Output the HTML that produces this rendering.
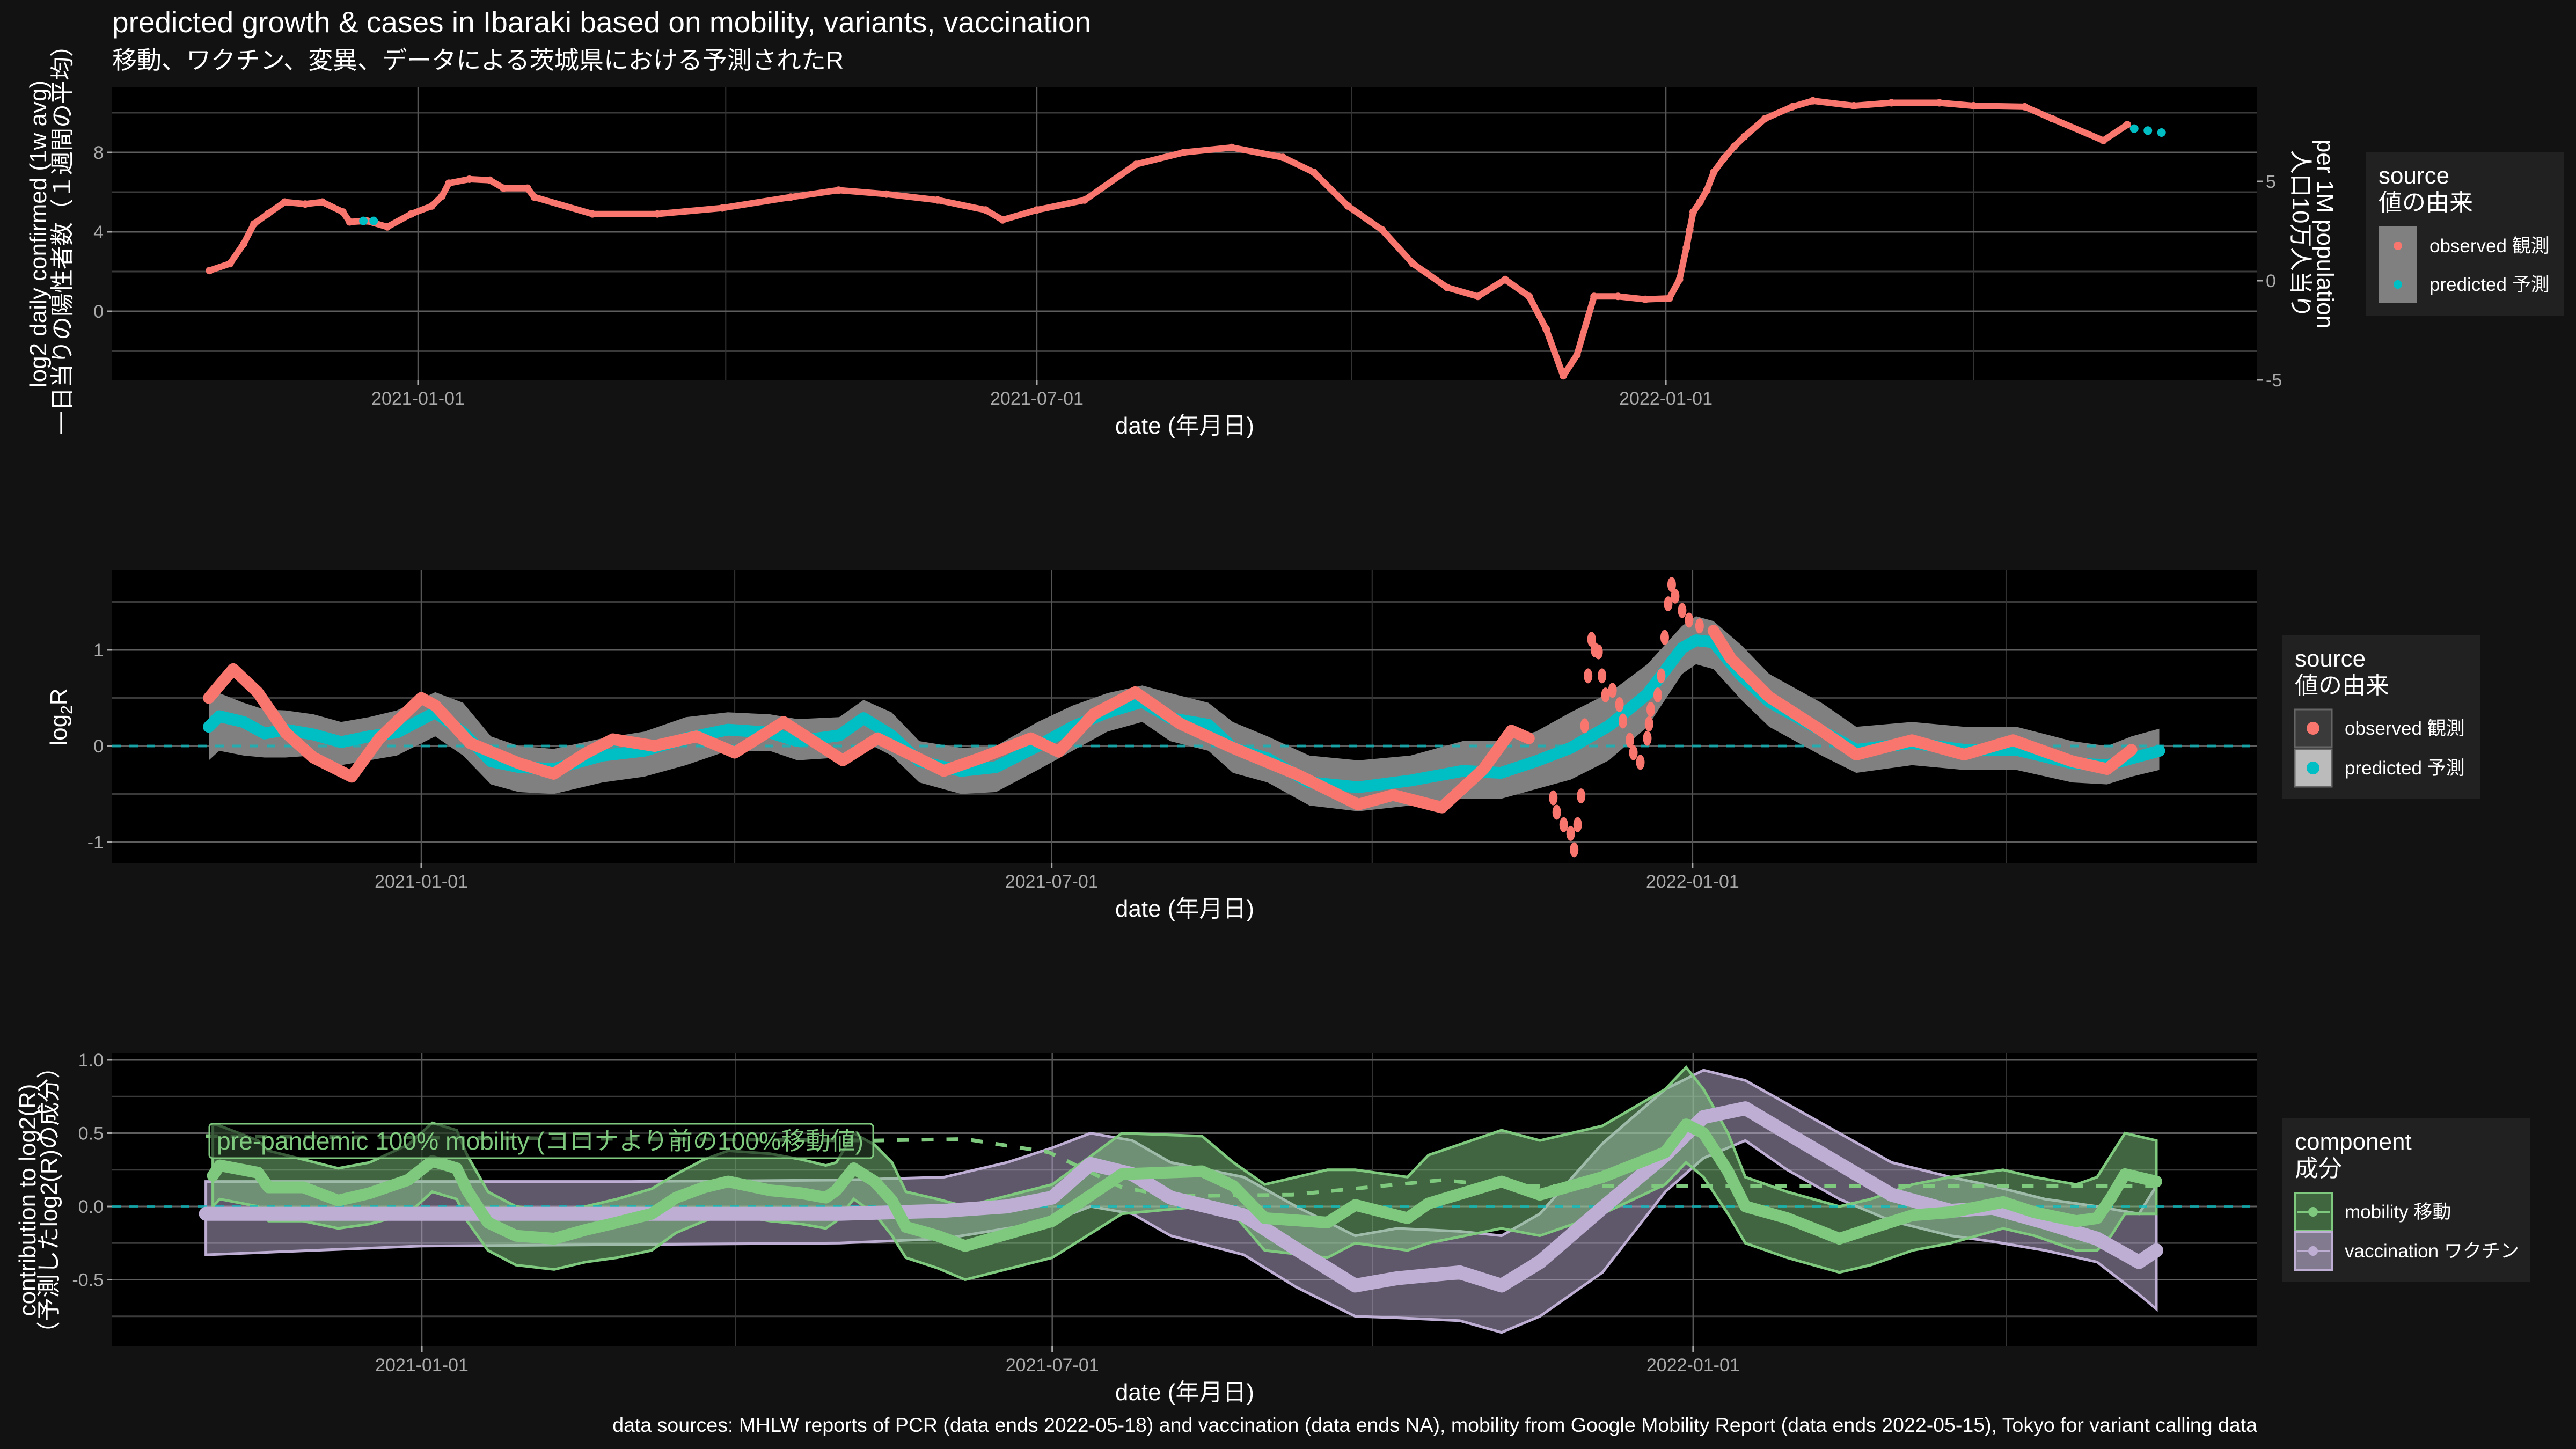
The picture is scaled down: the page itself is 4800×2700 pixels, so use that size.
<!DOCTYPE html>
<html><head><meta charset="utf-8"><style>
html,body{margin:0;padding:0;background:#121212;}
svg{display:block;}
text{font-family:"Liberation Sans","Noto Sans CJK JP",sans-serif;}
</style></head><body>
<svg id="chart" width="4800" height="2700" viewBox="0 0 4800 2700" xmlns="http://www.w3.org/2000/svg">
<rect x="0" y="0" width="4800" height="2700" fill="#121212"/>
<text x="209" y="60" font-size="55" fill="#ffffff">predicted growth &amp; cases in Ibaraki based on mobility, variants, vaccination</text>
<text x="209" y="128" font-size="46" fill="#ffffff">移動、ワクチン、変異、データによる茨城県における予測されたR</text>
<g id="p1"></g>
<g id="p2"></g>
<g id="p3"></g>
<g id="legends"></g>
<text x="4206" y="2668" font-size="37.5" fill="#ffffff" text-anchor="end">data sources: MHLW reports of PCR (data ends 2022-05-18) and vaccination (data ends NA), mobility from Google Mobility Report (data ends 2022-05-15), Tokyo for variant calling data</text>
</svg>
<script>
// ---- data (days since 2021-01-01) ----
const casesDays = [-61,-55,-51,-48,-44,-39,-33,-28,-22,-20,-15,-9,-2,4,7,9,15,21,25,32,34,51,70,89,109,123,137,152,166,171,181,195,210,224,238,253,262,272,282,291,301,310,318,325,330,335,339,344,351,359,366,369,371,372,373,375,377,379,382,385,388,394,402,408,420,431,445,455,470,478,493,500];
const casesObs  = [2.05,2.4,3.4,4.4,4.9,5.5,5.4,5.5,5.0,4.5,4.55,4.25,4.9,5.3,5.8,6.45,6.65,6.6,6.2,6.2,5.75,4.9,4.9,5.2,5.75,6.1,5.9,5.6,5.1,4.6,5.1,5.6,7.4,8.0,8.25,7.75,7.0,5.3,4.1,2.4,1.2,0.75,1.6,0.75,-0.9,-3.25,-2.2,0.75,0.75,0.6,0.65,1.6,3.2,4.1,5.0,5.5,6.1,7.0,7.7,8.3,8.8,9.7,10.3,10.6,10.35,10.5,10.5,10.35,10.3,9.7,8.6,9.4];
const casesPredDays = [-16,-13,502,506,510];
const casesPred = [4.55,4.55,9.2,9.1,9.0];
const p1YTicks = [0,4,8];
const p1YMinor = [-2,2,6,10];
const p1RightTicks = [-5,0,5];

const rObsDays = [-61,-54,-47,-39,-31,-20,-12,0,4,14,28,38,47,55,67,79,90,104,121,131,150,161,175,183,193,205,218,233,251,269,279,293,305,313,318];
const rObs = [0.5,0.8,0.56,0.14,-0.12,-0.32,0.08,0.5,0.42,0.03,-0.18,-0.29,-0.08,0.07,0,0.1,-0.07,0.25,-0.15,0.08,-0.26,-0.12,0.08,-0.06,0.33,0.56,0.23,-0.02,-0.29,-0.61,-0.51,-0.64,-0.24,0.16,0.08];
const rObs2Days = [371,376,387,402,412,428,443,457,474,484,491];
const rObs2 = [1.2,0.91,0.51,0.16,-0.09,0.06,-0.09,0.06,-0.16,-0.24,-0.04];
const rScatterDays = [325,326,328,330,331,332,333,334,335,336,337,338,339,340,342,344,345,347,348,350,352,352.5,353,355,356,357,358,359,360,362,364,367];
const rScatter = [-0.54,-0.69,-0.82,-0.91,-1.08,-0.82,-0.52,0.21,0.73,1.11,1.0,0.98,0.73,0.53,0.58,0.43,0.26,0.06,-0.07,-0.17,0.08,0.23,0.38,0.53,0.73,1.13,1.48,1.68,1.56,1.41,1.31,1.25];
const rPredDays = [-61,-58,-51,-45,-39,-31,-23,-15,-7,4,12,20,28,38,52,64,76,88,100,108,120,127,135,143,155,165,177,187,197,207,215,226,233,243,255,269,284,299,310,320,330,341,352,362,366,371,379,387,402,412,428,443,458,474,484,491,499];
const rPred = [0.2,0.31,0.25,0.13,0.17,0.12,0.04,0.1,0.14,0.35,0.14,-0.16,-0.22,-0.24,-0.1,-0.05,0.08,0.17,0.14,0.05,0.11,0.29,0.11,-0.16,-0.26,-0.22,0,0.2,0.35,0.46,0.29,0.22,-0.02,-0.13,-0.38,-0.43,-0.36,-0.26,-0.28,-0.16,-0.02,0.21,0.54,1.02,1.1,1.08,0.73,0.46,0.16,-0.04,0.03,-0.04,-0.04,-0.18,-0.2,-0.13,-0.05];
const rPredHi = [0.56,0.55,0.45,0.38,0.37,0.33,0.25,0.3,0.37,0.56,0.45,0.1,0.0,-0.03,0.08,0.15,0.3,0.35,0.33,0.28,0.3,0.48,0.35,0.05,-0.02,0.0,0.25,0.42,0.55,0.63,0.55,0.45,0.25,0.1,-0.1,-0.15,-0.1,0.05,0.05,0.15,0.35,0.55,0.85,1.25,1.35,1.3,1.05,0.75,0.45,0.2,0.25,0.2,0.2,0.05,0.0,0.1,0.18];
const rPredLo = [-0.15,-0.05,-0.1,-0.12,-0.12,-0.1,-0.2,-0.15,-0.1,0.1,-0.1,-0.4,-0.48,-0.5,-0.38,-0.32,-0.2,-0.05,-0.05,-0.15,-0.12,0.05,-0.1,-0.38,-0.5,-0.48,-0.25,-0.05,0.15,0.25,0.05,-0.05,-0.28,-0.38,-0.62,-0.68,-0.62,-0.55,-0.55,-0.45,-0.35,-0.15,0.2,0.75,0.85,0.8,0.48,0.2,-0.1,-0.28,-0.2,-0.25,-0.25,-0.38,-0.4,-0.32,-0.25];
const p2YTicks = [-1,0,1];
const p2YMinor = [-0.5,0.5,1.5];

const mobDays = [-60,-58,-47,-44,-34,-24,-15,-4,3,10,13,19,27,38,47,56,66,73,81,88,100,109,116,119,124,130,135,139,148,156,181,201,224,233,242,260,268,283,289,310,321,339,357,363,368,375,380,392,407,416,428,439,454,463,475,481,485,489,498];
const mob = [0.21,0.28,0.23,0.13,0.13,0.04,0.09,0.18,0.31,0.26,0.11,-0.11,-0.2,-0.22,-0.16,-0.11,-0.05,0.06,0.13,0.17,0.11,0.09,0.06,0.11,0.26,0.17,0.04,-0.14,-0.2,-0.27,-0.1,0.22,0.24,0.14,-0.08,-0.11,0.01,-0.08,0.02,0.17,0.08,0.2,0.37,0.56,0.5,0.24,0.0,-0.08,-0.22,-0.15,-0.06,-0.04,0.03,-0.04,-0.1,-0.08,0.06,0.22,0.17];
const mobHi = [0.56,0.55,0.45,0.38,0.32,0.26,0.3,0.42,0.57,0.52,0.35,0.1,0.0,-0.03,0.0,0.05,0.12,0.22,0.32,0.38,0.36,0.32,0.28,0.3,0.5,0.42,0.3,0.1,0.05,0.0,0.15,0.5,0.48,0.3,0.15,0.25,0.25,0.2,0.35,0.52,0.45,0.55,0.8,0.95,0.8,0.5,0.2,0.1,0.0,0.05,0.15,0.2,0.25,0.2,0.15,0.2,0.35,0.5,0.45];
const mobLo = [0.0,0.05,0.0,-0.1,-0.1,-0.15,-0.12,-0.05,0.1,0.05,-0.1,-0.3,-0.4,-0.43,-0.38,-0.35,-0.3,-0.18,-0.1,-0.05,-0.1,-0.12,-0.15,-0.1,0.05,-0.05,-0.2,-0.35,-0.42,-0.5,-0.35,-0.05,0.0,-0.05,-0.3,-0.35,-0.25,-0.3,-0.25,-0.15,-0.2,-0.05,0.15,0.3,0.2,-0.05,-0.25,-0.35,-0.45,-0.4,-0.3,-0.25,-0.15,-0.2,-0.3,-0.3,-0.2,-0.05,-0.05];
const vacDays = [-62,0,60,120,150,168,181,192,204,215,236,251,268,280,298,310,321,339,357,368,380,392,407,422,439,451,466,481,493,498];
const vac = [-0.05,-0.05,-0.05,-0.05,-0.03,0.0,0.06,0.29,0.22,0.06,-0.06,-0.29,-0.54,-0.49,-0.45,-0.54,-0.38,-0.01,0.35,0.61,0.67,0.5,0.29,0.08,-0.03,-0.01,-0.11,-0.22,-0.38,-0.3];
const vacHi = [0.17,0.17,0.17,0.18,0.2,0.3,0.4,0.5,0.45,0.3,0.2,0.0,-0.2,-0.15,-0.17,-0.2,-0.05,0.43,0.8,0.93,0.86,0.7,0.5,0.3,0.2,0.14,0.05,0.0,-0.05,0.14];
const vacLo = [-0.33,-0.27,-0.26,-0.25,-0.22,-0.15,-0.1,0.0,-0.05,-0.2,-0.33,-0.55,-0.75,-0.76,-0.78,-0.86,-0.75,-0.45,0.1,0.33,0.45,0.25,0.05,-0.1,-0.2,-0.24,-0.3,-0.38,-0.6,-0.7];
const refDays = [-62,130,156,180,201,215,250,293,310,498];
const refMob = [0.48,0.45,0.46,0.37,0.13,0.07,0.08,0.18,0.14,0.14];
const p3YTicks = [-0.5,0,0.5,1];
const p3YTickLabels = ["-0.5","0.0","0.5","1.0"];
const p3YMinor = [-0.75,-0.25,0.25,0.75];

const dateTicks = [0,181,365];
const dateTickLabels = ["2021-01-01","2021-07-01","2022-01-01"];
const dateMinor = [90,273,455];

// ---- helpers ----
const NS = "http://www.w3.org/2000/svg";
function mk(parent, tag, attrs, text){
  const e = document.createElementNS(NS, tag);
  for (const k in attrs) e.setAttribute(k, attrs[k]);
  if (text !== undefined) e.textContent = text;
  parent.appendChild(e);
  return e;
}
function makeAxes(P){
  return {
    x: d => P.x0 + d * P.ppd,
    y: v => P.yz - v * P.ppu
  };
}
function pathOf(ax, days, vals){
  return days.map((d,i)=>(i?"L":"M")+ax.x(d).toFixed(1)+","+ax.y(vals[i]).toFixed(1)).join("");
}
function bandOf(ax, days, hi, lo){
  let s = days.map((d,i)=>(i?"L":"M")+ax.x(d).toFixed(1)+","+ax.y(hi[i]).toFixed(1)).join("");
  for (let i=days.length-1;i>=0;i--) s += "L"+ax.x(days[i]).toFixed(1)+","+ax.y(lo[i]).toFixed(1);
  return s+"Z";
}
function panelFrame(g, P, ax, yMajor, yLabels, yMinor){
  const bg = mk(g,"rect",{x:P.left,y:P.top,width:P.right-P.left,height:P.bottom-P.top,fill:"#000"});
  
  
  yMinor.forEach(v=>{
    const l = mk(g,"line",{x1:P.left,x2:P.right,y1:ax.y(v),y2:ax.y(v),stroke:"#3a3a3a","stroke-width":3});
    
    
  });
  dateMinor.forEach(d=>{
    const l = mk(g,"line",{x1:ax.x(d),x2:ax.x(d),y1:P.top,y2:P.bottom,stroke:"#333","stroke-width":2});
    
    
  });
  yMajor.forEach((v,i)=>{
    const l = mk(g,"line",{x1:P.left,x2:P.right,y1:ax.y(v),y2:ax.y(v),stroke:"#5e5e5e","stroke-width":3});
    
    
    const tk = mk(g,"line",{x1:P.left-10,x2:P.left,y1:ax.y(v),y2:ax.y(v),stroke:"#aaa","stroke-width":3});
    
    
    const t = mk(g,"text",{x:P.left-16,y:ax.y(v)+12,"font-size":34,fill:"#aaaaaa","text-anchor":"end"},yLabels[i]);
    
    
  });
  dateTicks.forEach((d,i)=>{
    const l = mk(g,"line",{x1:ax.x(d),x2:ax.x(d),y1:P.top,y2:P.bottom,stroke:"#555","stroke-width":2.5});
    
    
    const tk = mk(g,"line",{x1:ax.x(d),x2:ax.x(d),y1:P.bottom,y2:P.bottom+10,stroke:"#aaa","stroke-width":3});
    
    
    const t = mk(g,"text",{x:ax.x(d),y:P.bottom+46,"font-size":34,fill:"#aaaaaa","text-anchor":"middle"},dateTickLabels[i]);
    
    
  });
  const xt = mk(g,"text",{x:(P.left+P.right)/2,y:P.bottom+100,"font-size":44,fill:"#fff","text-anchor":"middle"},"date (年月日)");
  
  
}
function zeroLine(g, P, ax){
  const l = mk(g,"line",{x1:P.left,x2:P.right,y1:ax.y(0),y2:ax.y(0),stroke:"#00BFC4","stroke-width":5,"stroke-dasharray":"16 16",opacity:0.7});
  
  
}
function rotText(g, x, y, angle, txt, size, name){
  const t = mk(g,"text",{x:0,y:0,"font-size":size,fill:"#fff","text-anchor":"middle",transform:`translate(${x},${y}) rotate(${angle})`},txt);
  
  
  return t;
}

// ---- panel 1 ----
(function(){
  const g = document.getElementById("p1");
  const P = {left:209,right:4206,top:163,bottom:708,x0:779,ppd:6.37,yz:580,ppu:37};
  const ax = makeAxes(P);
  panelFrame(g,P,ax,p1YTicks,p1YTicks.map(String),p1YMinor);
  p1RightTicks.forEach(v=>{
    const yy = ax.y(v + 1.54);
    const tk = mk(g,"line",{x1:P.right,x2:P.right+10,y1:yy,y2:yy,stroke:"#aaa","stroke-width":3});
    
    
    const t = mk(g,"text",{x:P.right+16,y:yy+12,"font-size":34,fill:"#aaaaaa"},String(v));
    
    
  });
  const pth = mk(g,"path",{d:pathOf(ax,casesDays,casesObs),fill:"none",stroke:"#F8766D","stroke-width":12,"stroke-linejoin":"round","stroke-linecap":"round"});
  
  
  casesDays.forEach((d,i)=>{
    const c = mk(g,"circle",{cx:ax.x(d),cy:ax.y(casesObs[i]),r:7,fill:"#F8766D"});
    
    
  });
  casesPredDays.forEach((d,i)=>{
    const c = mk(g,"circle",{cx:ax.x(d),cy:ax.y(casesPred[i]),r:8,fill:"#00BFC4"});
    
    
  });
  rotText(g,86,436,-90,"log2 daily confirmed (1w avg)",44,"y-axis-title-en");
  rotText(g,131,436,-90,"一日当りの陽性者数（１週間の平均）",44,"y-axis-title-ja");
  rotText(g,4318,436,90,"per 1M population",44,"right-axis-title-en");
  rotText(g,4272,436,90,"人口10万人当り",44,"right-axis-title-ja");
})();

// ---- panel 2 ----
(function(){
  const g = document.getElementById("p2");
  const P = {left:209,right:4206,top:1063,bottom:1608,x0:785,ppd:6.49,yz:1390,ppu:179};
  const ax = makeAxes(P);
  panelFrame(g,P,ax,p2YTicks,p2YTicks.map(String),p2YMinor);
  const band = mk(g,"path",{d:bandOf(ax,rPredDays,rPredHi,rPredLo),fill:"#808080"});
  
  
  zeroLine(g,P,ax);
  const pp = mk(g,"path",{d:pathOf(ax,rPredDays,rPred),fill:"none",stroke:"#00BFC4","stroke-width":22,"stroke-linejoin":"round","stroke-linecap":"round"});
  
  
  const o1 = mk(g,"path",{d:pathOf(ax,rObsDays,rObs),fill:"none",stroke:"#F8766D","stroke-width":22,"stroke-linejoin":"round","stroke-linecap":"round"});
  
  
  const o2 = mk(g,"path",{d:pathOf(ax,rObs2Days,rObs2),fill:"none",stroke:"#F8766D","stroke-width":22,"stroke-linejoin":"round","stroke-linecap":"round"});
  
  
  rScatterDays.forEach((d,i)=>{
    const c = mk(g,"ellipse",{cx:ax.x(d),cy:ax.y(rScatter[i]),rx:8,ry:14,fill:"#F8766D"});
    
    
  });
  const t = mk(g,"text",{x:0,y:0,"font-size":44,fill:"#fff","text-anchor":"middle",transform:"translate(124,1336) rotate(-90)"});
  
  
  t.innerHTML = 'log<tspan font-size="30" dy="10">2</tspan><tspan dy="-10">R</tspan>';
})();

// ---- panel 3 ----
(function(){
  const g = document.getElementById("p3");
  const P = {left:209,right:4206,top:1963,bottom:2509,x0:786,ppd:6.49,yz:2248,ppu:273};
  const ax = makeAxes(P);
  panelFrame(g,P,ax,p3YTicks,p3YTickLabels,p3YMinor);
  const vb = mk(g,"path",{d:bandOf(ax,vacDays,vacHi,vacLo),fill:"rgba(190,174,212,0.5)",stroke:"#BEAED4","stroke-width":5});
  
  
  const mb = mk(g,"path",{d:bandOf(ax,mobDays,mobHi,mobLo),fill:"rgba(127,201,127,0.5)",stroke:"#7FC97F","stroke-width":5});
  
  
  zeroLine(g,P,ax);
  const rf = mk(g,"path",{d:pathOf(ax,refDays,refMob),fill:"none",stroke:"#7FC97F","stroke-width":7,"stroke-dasharray":"22 24"});
  
  
  const vl = mk(g,"path",{d:pathOf(ax,vacDays,vac),fill:"none",stroke:"#BEAED4","stroke-width":26,"stroke-linejoin":"round","stroke-linecap":"round"});
  
  
  const ml = mk(g,"path",{d:pathOf(ax,mobDays,mob),fill:"none",stroke:"#7FC97F","stroke-width":22,"stroke-linejoin":"round","stroke-linecap":"round"});
  
  
  const lb = mk(g,"rect",{x:390,y:2094,width:1237,height:64,rx:6,fill:"rgba(0,0,0,0.55)",stroke:"#7FC97F","stroke-width":3});
  
  
  const lt = mk(g,"text",{x:404,y:2142,"font-size":46,fill:"#7FC97F",textLength:1205,lengthAdjust:"spacingAndGlyphs"},"pre-pandemic 100% mobility (コロナより前の100%移動値)");
  
  
  rotText(g,66,2236,-90,"contribution to log2(R)",44,"y-axis-title-en");
  rotText(g,106,2236,-90,"（予測したlog2(R)の成分）",44,"y-axis-title-ja");
})();

// ---- legends ----
(function(){
  const g = document.getElementById("legends");
  function box(x,y,w,h,name){
    const r = mk(g,"rect",{x,y,width:w,height:h,fill:"#212121"});
    
    
  }
  function txt(x,y,s,size,name){
    const t = mk(g,"text",{x,y,"font-size":size,fill:"#fff"},s);
    
    
  }
  box(4409,284,368,304,'source-legend-cases');
  txt(4432,342,"source",44,'legend-title');
  txt(4432,392,"値の由来",44,'legend-subtitle');
  let k = mk(g,"rect",{x:4432,y:422,width:72,height:143,fill:"#808080"});
  
  
  let c = mk(g,"circle",{cx:4468,cy:458,r:8,fill:"#F8766D"});
  
  
  c = mk(g,"circle",{cx:4468,cy:530,r:8,fill:"#00BFC4"});
  
  
  txt(4527,470,"observed 観測",35,'legend-entry-observed');
  txt(4527,542,"predicted 予測",35,'legend-entry-predicted');
  box(4253,1184,368,305,'source-legend-log2r');
  txt(4276,1242,"source",44,'legend-title');
  txt(4276,1292,"値の由来",44,'legend-subtitle');
  k = mk(g,"rect",{x:4276,y:1322,width:69,height:70,fill:"#3a3a3a",stroke:"#666","stroke-width":3});
  
  
  k = mk(g,"rect",{x:4276,y:1396,width:69,height:70,fill:"#bbbbbb",stroke:"#666","stroke-width":3});
  
  
  c = mk(g,"circle",{cx:4310,cy:1357,r:12,fill:"#F8766D"});
  
  
  c = mk(g,"circle",{cx:4310,cy:1431,r:12,fill:"#00BFC4"});
  
  
  txt(4369,1369,"observed 観測",35,'legend-entry-observed');
  txt(4369,1443,"predicted 予測",35,'legend-entry-predicted');
  box(4253,2084,461,304,'component-legend');
  txt(4276,2142,"component",44,'legend-title');
  txt(4276,2192,"成分",44,'legend-subtitle');
  k = mk(g,"rect",{x:4276,y:2223,width:69,height:70,fill:"#40663f",stroke:"#7FC97F","stroke-width":4});
  
  
  k = mk(g,"rect",{x:4276,y:2296,width:69,height:70,fill:"#827a8f",stroke:"#BEAED4","stroke-width":4});
  
  
  let l = mk(g,"line",{x1:4280,x2:4341,y1:2258,y2:2258,stroke:"#7FC97F","stroke-width":4});
  
  
  c = mk(g,"circle",{cx:4310,cy:2258,r:9,fill:"#7FC97F"});
  
  
  l = mk(g,"line",{x1:4280,x2:4341,y1:2331,y2:2331,stroke:"#BEAED4","stroke-width":4});
  
  
  c = mk(g,"circle",{cx:4310,cy:2331,r:9,fill:"#BEAED4"});
  
  
  txt(4369,2270,"mobility 移動",35,'legend-entry-mobility');
  txt(4369,2343,"vaccination ワクチン",35,'legend-entry-vaccination');
})();
</script>
</body></html>
